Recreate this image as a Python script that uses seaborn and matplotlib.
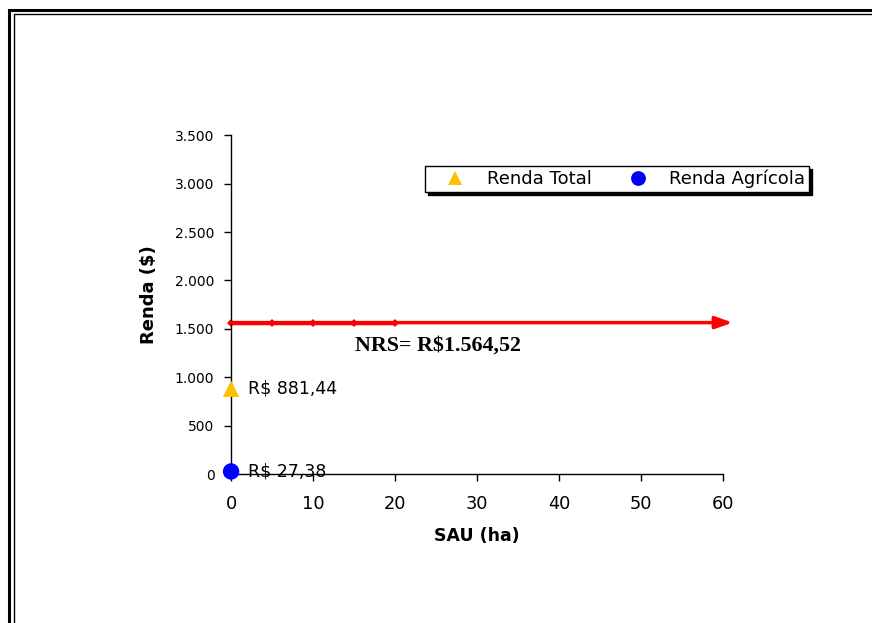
import matplotlib
matplotlib.use("Agg")
import matplotlib.pyplot as plt
import pandas as pd
import seaborn as sns
from matplotlib.patches import Rectangle

sns.set_theme(style="white")
plt.rcParams["font.family"] = ["DejaVu Sans"]
plt.rcParams["text.color"] = "black"
plt.rcParams["axes.labelcolor"] = "black"
plt.rcParams["xtick.color"] = "black"
plt.rcParams["ytick.color"] = "black"

# data
series = ["Renda Total", "Renda Agrícola"]
series_x = [0, 0]
series_y = [881.44, 27.38]
series_labels = ["R$ 881,44", "R$ 27,38"]
nrs_value = 1564.52
nrs_x = [0, 5, 10, 15, 20]
nrs_label = "NRS= R$1.564,52"

x_ticks = [0, 10, 20, 30, 40, 50, 60]
y_ticks = [0, 500, 1000, 1500, 2000, 2500, 3000, 3500]
y_tick_labels = ["0", "500", "1.000", "1.500", "2.000", "2.500", "3.000", "3.500"]

df = pd.DataFrame({"SAU": series_x, "Renda": series_y, "Série": series})
nrs_df = pd.DataFrame({"SAU": nrs_x, "Renda": [nrs_value] * len(nrs_x)})

fig = plt.figure(figsize=(8.72, 6.23), dpi=100)
ax = fig.add_axes([0.265, 0.239, 0.564, 0.544])

# red NRS line with small markers and an arrow head
sns.lineplot(data=nrs_df, x="SAU", y="Renda", ax=ax, color="#FF0000", lw=2.5,
             marker="D", markersize=4.5, markeredgewidth=0, clip_on=False)
ax.annotate("", xy=(61.2, nrs_value), xytext=(0, nrs_value),
            arrowprops=dict(arrowstyle="-|>,head_length=0.85,head_width=0.3",
                            color="#FF0000", lw=2.5, shrinkA=0, shrinkB=0),
            annotation_clip=False)
ax.text(15.1, nrs_value - 235, nrs_label, family=["Liberation Serif", "DejaVu Serif"],
        fontweight="bold", fontsize=15.8, va="center", ha="left", color="black")

sns.scatterplot(data=df, x="SAU", y="Renda", hue="Série", style="Série",
                palette={"Renda Total": "#FFC000", "Renda Agrícola": "#0000FF"},
                markers={"Renda Total": "^", "Renda Agrícola": "o"},
                s=140, linewidth=0, ax=ax, clip_on=False, zorder=5)
for xv, yv, lab in zip(series_x, series_y, series_labels):
    ax.text(xv + 2.1, yv, lab, fontsize=12.5, va="center", ha="left", color="black")

ax.set_xlim(0, 60)
ax.set_ylim(0, 3500)
ax.set_xticks(x_ticks)
ax.set_yticks(y_ticks)
ax.set_yticklabels(y_tick_labels)
ax.tick_params(axis="x", labelsize=12.8, length=5, width=1, direction="out",
               bottom=True, pad=10)
ax.tick_params(axis="y", labelsize=10, length=5, width=1, direction="out",
               left=True, pad=7)
for s in ["top", "right"]:
    ax.spines[s].set_visible(False)
for s in ["left", "bottom"]:
    ax.spines[s].set_color("black")
    ax.spines[s].set_linewidth(1)
ax.set_xlabel("SAU (ha)", fontsize=12.5, fontweight="bold", labelpad=10)
ax.set_ylabel("Renda ($)", fontsize=13, fontweight="bold")
ax.yaxis.set_label_coords(-0.148, 0.531)

handles, labels = ax.get_legend_handles_labels()
ax.legend_.remove()
leg = fig.legend(handles, labels, loc="center", bbox_to_anchor=(0.7076, 0.7127),
                 ncol=2, frameon=True, fancybox=False, shadow={"color": "black", "alpha": 1},
                 edgecolor="black", fontsize=13, borderpad=0.2, columnspacing=1.1,
                 handlelength=2.9, handletextpad=0.3, markerscale=0.9)
leg.get_frame().set_linewidth(1)

# double border around the chart area
fig.patches.append(Rectangle((9 / 872, -0.1), 1.2, 0.984 + 0.1, transform=fig.transFigure,
                             fill=False, edgecolor="black", lw=2.2))
fig.patches.append(Rectangle((13.5 / 872, -0.1), 1.2, 0.977 + 0.1, transform=fig.transFigure,
                             fill=False, edgecolor="black", lw=1.0))

fig.savefig("out.png", dpi=100)
